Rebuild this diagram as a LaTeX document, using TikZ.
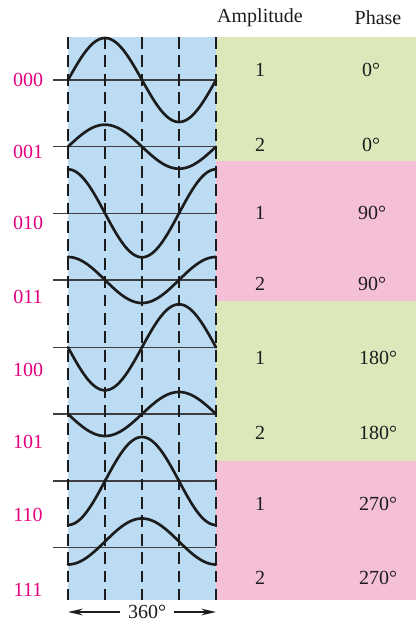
\documentclass[tikz,border=0pt]{standalone}
\usepackage{fontspec}
\setmainfont{Liberation Serif}
\usepackage{xcolor}
\usetikzlibrary{arrows.meta,positioning}
\definecolor{bluebg}{HTML}{BBDCF2}
\definecolor{greenbg}{HTML}{DCE7BA}
\definecolor{pinkbg}{HTML}{F5C0D7}
\definecolor{codepink}{HTML}{E6007E}
\definecolor{inkdark}{HTML}{1C1C1C}

\begin{document}
\begin{tikzpicture}[x=0.75pt, y=-0.75pt,
  wave/.style={line width=2pt, inkdark, line cap=round},
  axisline/.style={line width=1.1pt, inkdark!85},
  gridline/.style={line width=1.1pt, inkdark, dash pattern=on 8.8pt off 5pt},
  codelbl/.style={font=\fontsize{15}{18}\selectfont, text=codepink},
  cell/.style={font=\fontsize{15}{18}\selectfont, text=inkdark},
  colhead/.style={font=\fontsize{15}{18}\selectfont, text=inkdark},
  spanarrow/.style={-{Stealth[length=11pt,width=5pt]}, line width=1.1pt, inkdark}
]
\useasboundingbox (0,0) rectangle (416,622);

%─── BACKGROUNDS ─────────────────────────────────────────────────────────────
\fill[bluebg]  (68,37)   rectangle (216,600);
\fill[greenbg] (216,37)  rectangle (416,161);
\fill[pinkbg]  (216,161) rectangle (416,301);
\fill[greenbg] (216,301) rectangle (416,461);
\fill[pinkbg]  (216,461) rectangle (416,600);

%─── AXES AND GRID ───────────────────────────────────────────────────────────
\foreach \ay in {80,146.7,213.3,280,347.3,414,481,547.7}
  \draw[axisline] (53,\ay) -- (216,\ay);
\foreach \gx in {68,105,142,179,216}
  \draw[gridline] (\gx,37) -- (\gx,600);

%─── WAVES ───────────────────────────────────────────────────────────────────
\foreach \ay/\amp/\ph in {80/42/0, 146.7/22/0, 213.3/44/90, 280/23/90,
                          347.3/43/180, 414/22/180, 481/44/270, 541.5/23/270}
  \draw[wave] plot[domain=0:360, samples=73, smooth]
    ({68+\x/360*148}, {\ay-\amp*sin(\x+\ph)});

%─── CODES ───────────────────────────────────────────────────────────────────
\node[codelbl] (c000) at (28,80)  {000};
\node[codelbl] (c001) at (28,152) {001};
\node[codelbl] (c010) at (28,223) {010};
\node[codelbl] (c011) at (28,297) {011};
\node[codelbl] (c100) at (28,370) {100};
\node[codelbl] (c101) at (28,442) {101};
\node[codelbl] (c110) at (28,515) {110};
\node[codelbl] (c111) at (28,590) {111};

%─── TABLE ───────────────────────────────────────────────────────────────────
\node[colhead] (AMP) at (260,18) {Amplitude};
\node[colhead] (PHA) at (378,18) {Phase};

\node[cell] (a1) at (260,70)  {1};  \node[cell] (p1) at (371,70)  {0°};
\node[cell] (a2) at (260,145) {2};  \node[cell] (p2) at (371,145) {0°};
\node[cell] (a3) at (260,213) {1};  \node[cell] (p3) at (372,213) {90°};
\node[cell] (a4) at (260,284) {2};  \node[cell] (p4) at (372,284) {90°};
\node[cell] (a5) at (260,358) {1};  \node[cell] (p5) at (378,358) {180°};
\node[cell] (a6) at (260,433) {2};  \node[cell] (p6) at (378,433) {180°};
\node[cell] (a7) at (260,504) {1};  \node[cell] (p7) at (378,504) {270°};
\node[cell] (a8) at (260,578) {2};  \node[cell] (p8) at (378,578) {270°};

%─── PERIOD ──────────────────────────────────────────────────────────────────
\node[cell, inner sep=6pt] (per) at (147,612) {360°};
\coordinate (perL) at (68,612);
\coordinate (perR) at (216,612);
\draw[spanarrow] (per.west) -- (perL);
\draw[spanarrow] (per.east) -- (perR);

\end{tikzpicture}
\end{document}
